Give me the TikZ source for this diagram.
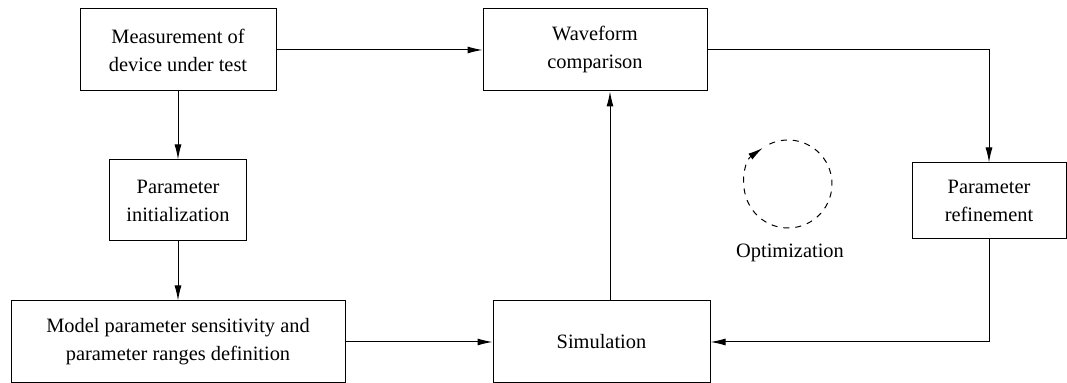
\documentclass[tikz,border=0pt]{standalone}
\usepackage{fontspec}
\setmainfont{Liberation Serif}
\usetikzlibrary{arrows.meta}
\tikzstyle{block} = [
  draw,
  align=center,
  inner sep=0pt,
  font=\fontsize{10.2}{14}\selectfont,
]
\tikzstyle{flow} = [
  -{Latex[length=7.5pt,width=3.5pt]},
]

\begin{document}
\begin{tikzpicture}[x=0.5pt, y=0.5pt, line width=0.5pt]
            \useasboundingbox (0,0) rectangle (1067,383);

            % Blocks
            \node[block, minimum width=98pt, minimum height=41pt] (meas) at (178,333) {Measurement of\\device under test};
            \node[block, minimum width=112pt, minimum height=41pt] (wave) at (595,333) {Waveform\\comparison};
            \node[block, minimum width=68.5pt, minimum height=40.5pt] (init) at (178,182.5) {Parameter\\initialization};
            \node[block, minimum width=77pt, minimum height=38pt] (refine) at (989,182) {Parameter\\refinement};
            \node[block, minimum width=167pt, minimum height=41pt] (model) at (178,41) {Model parameter sensitivity and\\parameter ranges definition};
            \node[block, minimum width=108.5pt, minimum height=41pt] (sim) at (601.5,41) {Simulation};

            % Loop
            \coordinate (loop) at (788,199);
            \draw[dashed, flow] ([shift={(115:22pt)}]loop) arc[start angle=115, end angle=-235, radius=22pt];
            \node[font=\fontsize{10.2}{14}\selectfont] (opt) at (790,130) {Optimization};

            % Connectors
            \draw[flow] (meas) -- (wave);
            \draw[flow] (meas) -- (init);
            \draw[flow] (init) -- (model);
            \draw[flow] (model) -- (sim);
            \draw[flow] ([xshift=4.25pt]sim.north) -- ([xshift=4.25pt]sim.north |- wave.south);
            \draw[flow] (wave.east) -| (refine.north);
            \draw[flow] (refine.south) |- (sim.east);
          \end{tikzpicture}
\end{document}
